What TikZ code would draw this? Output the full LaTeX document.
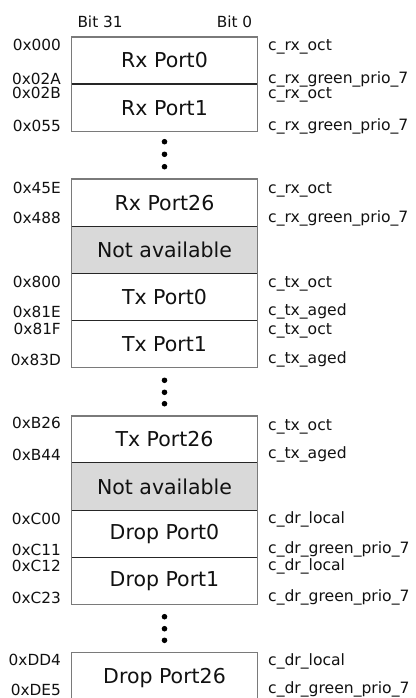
\documentclass[tikz,border=0pt]{standalone}
\usepackage{fontspec}
\setmainfont{DejaVu Sans}
\definecolor{outerline}{HTML}{7A7A7A}
\definecolor{innerline}{HTML}{262626}
\definecolor{nafill}{HTML}{D9D9D9}
\definecolor{txt}{HTML}{111111}
\begin{document}
\begin{tikzpicture}[x=1pt,y=-1pt,
  membox/.style={rectangle,draw=outerline,line width=1.2pt,fill=white,minimum width=185.6pt,inner sep=0pt,outer sep=0pt,font=\fontsize{20.5}{24}\selectfont,text=txt},
  nabox/.style={membox,fill=nafill},
  addrl/.style={anchor=base east,inner sep=0pt,font=\fontsize{15.3}{18}\selectfont,text=txt},
  cntr/.style={anchor=base west,inner sep=0pt,font=\fontsize{15.6}{18}\selectfont,text=txt},
  divider/.style={draw=innerline,line width=1.2pt},
  vdot/.style={circle,fill=black,inner sep=0pt,minimum size=5.6pt}
]
\useasboundingbox (0,0) rectangle (415,698);
\clip (0,0) rectangle (415,698);
\fill[white] (0,0) rectangle (415,698);

% header
\node[anchor=base west,inner sep=0pt,font=\fontsize{15.3}{18}\selectfont,text=txt] (b31) at (77.3,27.5) {Bit 31};
\node[anchor=base east,inner sep=0pt,font=\fontsize{15.3}{18}\selectfont,text=txt] (b0) at (252.3,27.5) {Bit 0};

% group 1
\node[membox,minimum height=47pt] (rx0) at (164.5,60.5) {Rx Port0};
\node[membox,minimum height=47.7pt] (rx1) at (164.5,107.85) {Rx Port1};
\draw[divider] (rx0.south west) -- (rx0.south east);

\node[vdot] (d1a) at (164.5,141.7) {};
\node[vdot] (d1b) at (164.5,154.3) {};
\node[vdot] (d1c) at (164.5,166.7) {};

% group 2
\node[membox,minimum height=47.7pt] (rx26) at (164.5,202.85) {Rx Port26};
\node[nabox,minimum height=46.6pt] (na1) at (164.5,250.0) {Not available};
\node[membox,minimum height=47.4pt] (tx0) at (164.5,297.0) {Tx Port0};
\node[membox,minimum height=47pt] (tx1) at (164.5,344.2) {Tx Port1};
\draw[divider] (rx26.south west) -- (rx26.south east);
\draw[divider] (na1.south west) -- (na1.south east);
\draw[divider] (tx0.south west) -- (tx0.south east);

\node[vdot] (d2a) at (164.5,380.3) {};
\node[vdot] (d2b) at (164.5,392.3) {};
\node[vdot] (d2c) at (164.5,403.7) {};

% group 3
\node[membox,minimum height=46.7pt] (tx26) at (164.5,439.35) {Tx Port26};
\node[nabox,minimum height=48pt] (na2) at (164.5,486.7) {Not available};
\node[membox,minimum height=47pt] (dr0) at (164.5,534.2) {Drop Port0};
\node[membox,minimum height=46.6pt] (dr1) at (164.5,581.0) {Drop Port1};
\draw[divider] (tx26.south west) -- (tx26.south east);
\draw[divider] (na2.south west) -- (na2.south east);
\draw[divider] (dr0.south west) -- (dr0.south east);

\node[vdot] (d3a) at (164.5,616.7) {};
\node[vdot] (d3b) at (164.5,628.7) {};
\node[vdot] (d3c) at (164.5,640.3) {};

% group 4 (cut off at bottom)
\node[membox,minimum height=80pt] (dr26) at (164.5,692.5) {};
\node[font=\fontsize{20.5}{24}\selectfont,text=txt,inner sep=0pt,anchor=base] (dr26t) at (164.5,683.5) {Drop Port26};

% left addresses
\node[addrl] (a1) at (61,51) {0x000};
\node[addrl] (a2) at (61,84.3) {0x02A};
\node[addrl] (a3) at (61,99) {0x02B};
\node[addrl] (a4) at (61,131.5) {0x055};
\node[addrl] (a5) at (61,193) {0x45E};
\node[addrl] (a6) at (61,223.5) {0x488};
\node[addrl] (a7) at (61,287.3) {0x800};
\node[addrl] (a8) at (61,317.3) {0x81E};
\node[addrl] (a9) at (61,334) {0x81F};
\node[addrl] (a10) at (61,365) {0x83D};
\node[addrl] (a11) at (61,428.5) {0xB26};
\node[addrl] (a12) at (61,460) {0xB44};
\node[addrl] (a13) at (61,524) {0xC00};
\node[addrl] (a14) at (61,555) {0xC11};
\node[addrl] (a15) at (61,571) {0xC12};
\node[addrl] (a16) at (61,603) {0xC23};
\node[addrl] (a17) at (61,665) {0xDD4};
\node[addrl] (a18) at (61,695) {0xDE5};

% right counters
\node[cntr] (c1) at (268,51) {c\_rx\_oct};
\node[cntr] (c2) at (268,83.3) {c\_rx\_green\_prio\_7};
\node[cntr] (c3) at (268,99) {c\_rx\_oct};
\node[cntr] (c4) at (268,131) {c\_rx\_green\_prio\_7};
\node[cntr] (c5) at (268,193.5) {c\_rx\_oct};
\node[cntr] (c6) at (268,222) {c\_rx\_green\_prio\_7};
\node[cntr] (c7) at (268,287.3) {c\_tx\_oct};
\node[cntr] (c8) at (268,315.7) {c\_tx\_aged};
\node[cntr] (c9) at (268,334) {c\_tx\_oct};
\node[cntr] (c10) at (268,363.3) {c\_tx\_aged};
\node[cntr] (c11) at (268,430) {c\_tx\_oct};
\node[cntr] (c12) at (268,458.5) {c\_tx\_aged};
\node[cntr] (c13) at (268,523.5) {c\_dr\_local};
\node[cntr] (c14) at (268,553) {c\_dr\_green\_prio\_7};
\node[cntr] (c15) at (268,570.5) {c\_dr\_local};
\node[cntr] (c16) at (268,601) {c\_dr\_green\_prio\_7};
\node[cntr] (c17) at (268,665.5) {c\_dr\_local};
\node[cntr] (c18) at (268,693.5) {c\_dr\_green\_prio\_7};
\end{tikzpicture}
\end{document}
